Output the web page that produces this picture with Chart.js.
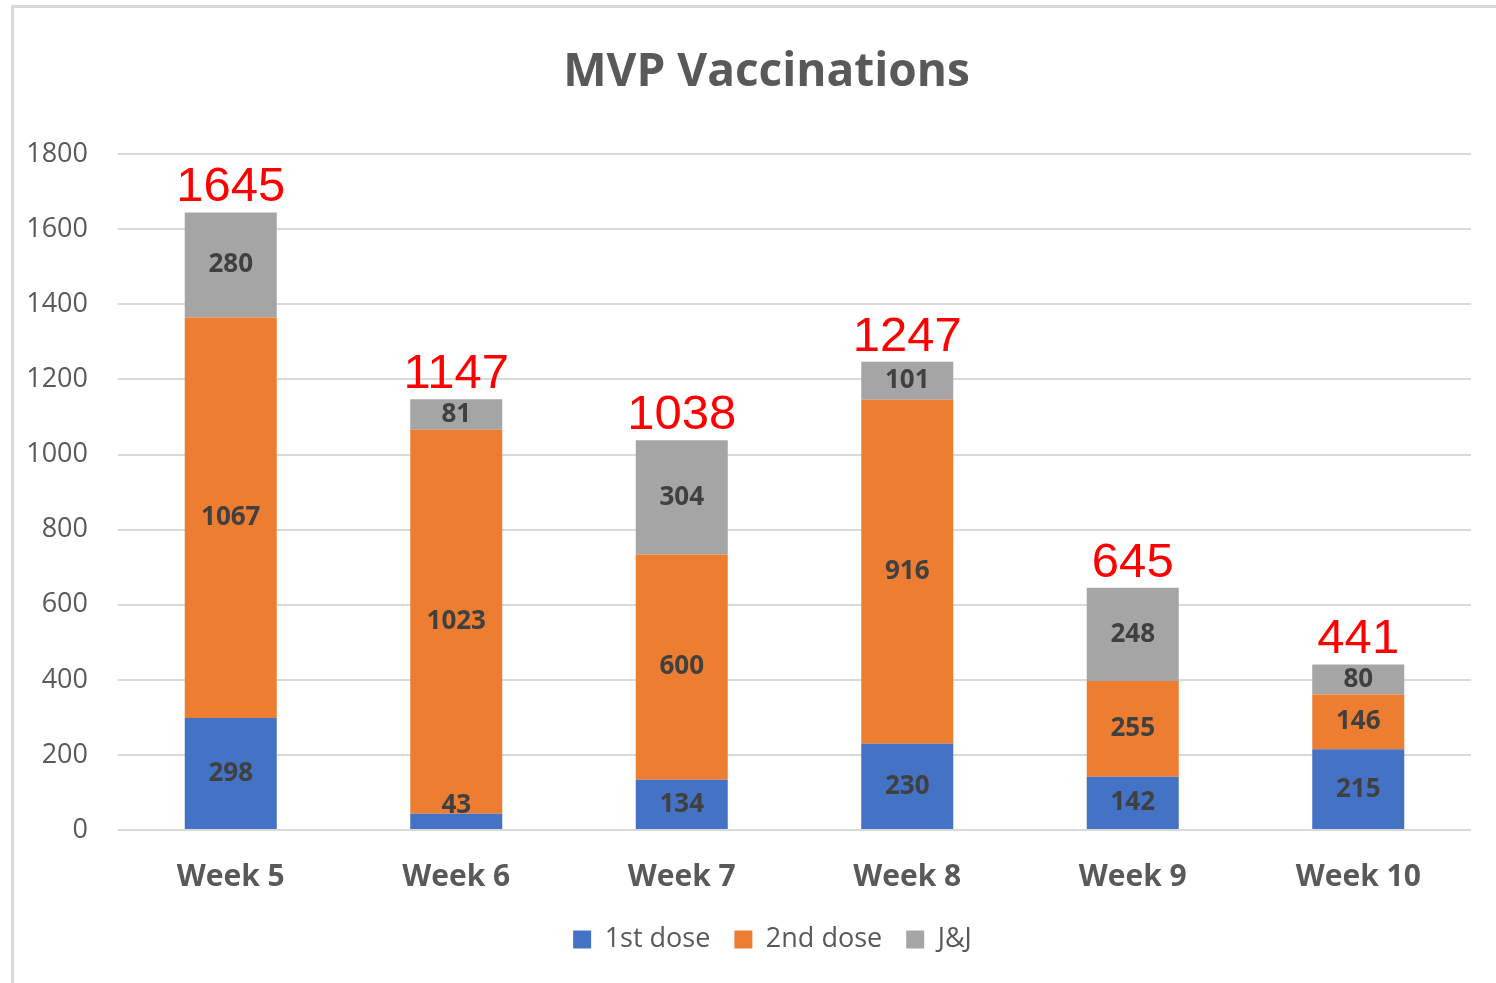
<!DOCTYPE html>
<html>
<head>
<meta charset="utf-8">
<title>MVP Vaccinations</title>
<script src="https://cdn.jsdelivr.net/npm/chart.js@4.4.1/dist/chart.umd.min.js"></script>
<style>
    html, body { margin: 0; padding: 0; background: #fff; overflow: hidden; }
    #wrap { position: relative; width: 1496px; height: 983px; }
    #frame {
        position: absolute; left: 11px; top: 5px; right: -5px; bottom: -5px;
        border-left: 3px solid #d9d9d9; border-top: 3px solid #d9d9d9;
        pointer-events: none;
    }
</style>
</head>
<body>
<div id="wrap">
    <canvas id="vaxChart" width="1496" height="983"></canvas>
    <div id="frame"></div>
</div>
<script>
// data
const weeks = ['Week 5', 'Week 6', 'Week 7', 'Week 8', 'Week 9', 'Week 10'];
const firstDose = [298, 43, 134, 230, 142, 215];
const secondDose = [1067, 1023, 600, 916, 255, 146];
const jnj = [280, 81, 304, 101, 248, 80];
const totals = [1645, 1147, 1038, 1247, 645, 441];
const yTicks = [0, 200, 400, 600, 800, 1000, 1200, 1400, 1600, 1800];

const GREY_TEXT = '#595959';
const FONT = '"Open Sans", Lato, sans-serif';

// segment labels + red totals on top
const labelPlugin = {
    id: 'barLabels',
    afterLayout(chart) {
        // original centres title and legend a bit right of the canvas middle
        if (chart.titleBlock) { chart.titleBlock.left += 21; chart.titleBlock.right += 21; }
        if (chart.legend) { chart.legend.left += 27; chart.legend.right += 27; }
    },
    afterDatasetsDraw(chart) {
        const ctx = chart.ctx;
        const base = chart.scales.y.getPixelForValue(0);
        ctx.save();
        ctx.textAlign = 'center';
        ctx.textBaseline = 'middle';
        ctx.font = 'bold 26px ' + FONT;
        ctx.fillStyle = '#404040';
        chart.data.datasets.forEach((ds, i) => {
            const meta = chart.getDatasetMeta(i);
            meta.data.forEach((bar, j) => {
                let y = (bar.y + bar.base) / 2;
                if (y > base - 24) y = base - 24;
                ctx.fillText(ds.data[j], bar.x, y);
            });
        });
        // totals
        const top = chart.getDatasetMeta(chart.data.datasets.length - 1);
        ctx.font = '49px "Liberation Sans", Arial, sans-serif';
        ctx.fillStyle = '#ff0000';
        ctx.textBaseline = 'alphabetic';
        top.data.forEach((bar, j) => {
            ctx.fillText(totals[j], bar.x, bar.y - 11);
        });
        ctx.restore();
    }
};

const ctx = document.getElementById('vaxChart').getContext('2d');
const vaxChart = new Chart(ctx, {
    type: 'bar',
    data: {
        labels: weeks,
        datasets: [
            { label: '1st dose', data: firstDose, backgroundColor: '#4472c4' },
            { label: '2nd dose', data: secondDose, backgroundColor: '#ed7d31' },
            { label: 'J&J', data: jnj, backgroundColor: '#a5a5a5' }
        ]
    },
    options: {
        responsive: false,
        animation: false,
        categoryPercentage: 1,
        barPercentage: 0.408,
        layout: { padding: { left: 20, right: 25, top: 0, bottom: 20 } },
        plugins: {
            title: {
                display: true,
                text: 'MVP Vaccinations',
                color: GREY_TEXT,
                font: { family: FONT, size: 46, weight: 'bold' },
                padding: { top: 45, bottom: 54 }
            },
            legend: {
                position: 'bottom',
                labels: {
                    color: GREY_TEXT,
                    font: { family: FONT, size: 27 },
                    boxWidth: 18,
                    boxHeight: 18,
                    padding: 24
                }
            },
            tooltip: { enabled: false }
        },
        scales: {
            x: {
                stacked: true,
                grid: { display: false, drawTicks: false },
                border: { display: false },
                ticks: {
                    color: GREY_TEXT,
                    font: { family: FONT, size: 30, weight: 'bold' },
                    padding: 29
                },
                afterFit(scale) { scale.height = 72; }
            },
            y: {
                stacked: true,
                min: 0,
                max: 1800,
                afterBuildTicks(scale) {
                    scale.ticks = yTicks.map(v => ({ value: v }));
                },
                grid: { color: '#d9d9d9', lineWidth: 2, drawTicks: false },
                border: { display: false },
                ticks: {
                    color: GREY_TEXT,
                    font: { family: FONT, size: 27 },
                    padding: 30,
                    callback: v => String(v)
                },
                afterFit(scale) { scale.width = 98; }
            }
        }
    },
    plugins: [labelPlugin]
});
</script>
</body>
</html>
